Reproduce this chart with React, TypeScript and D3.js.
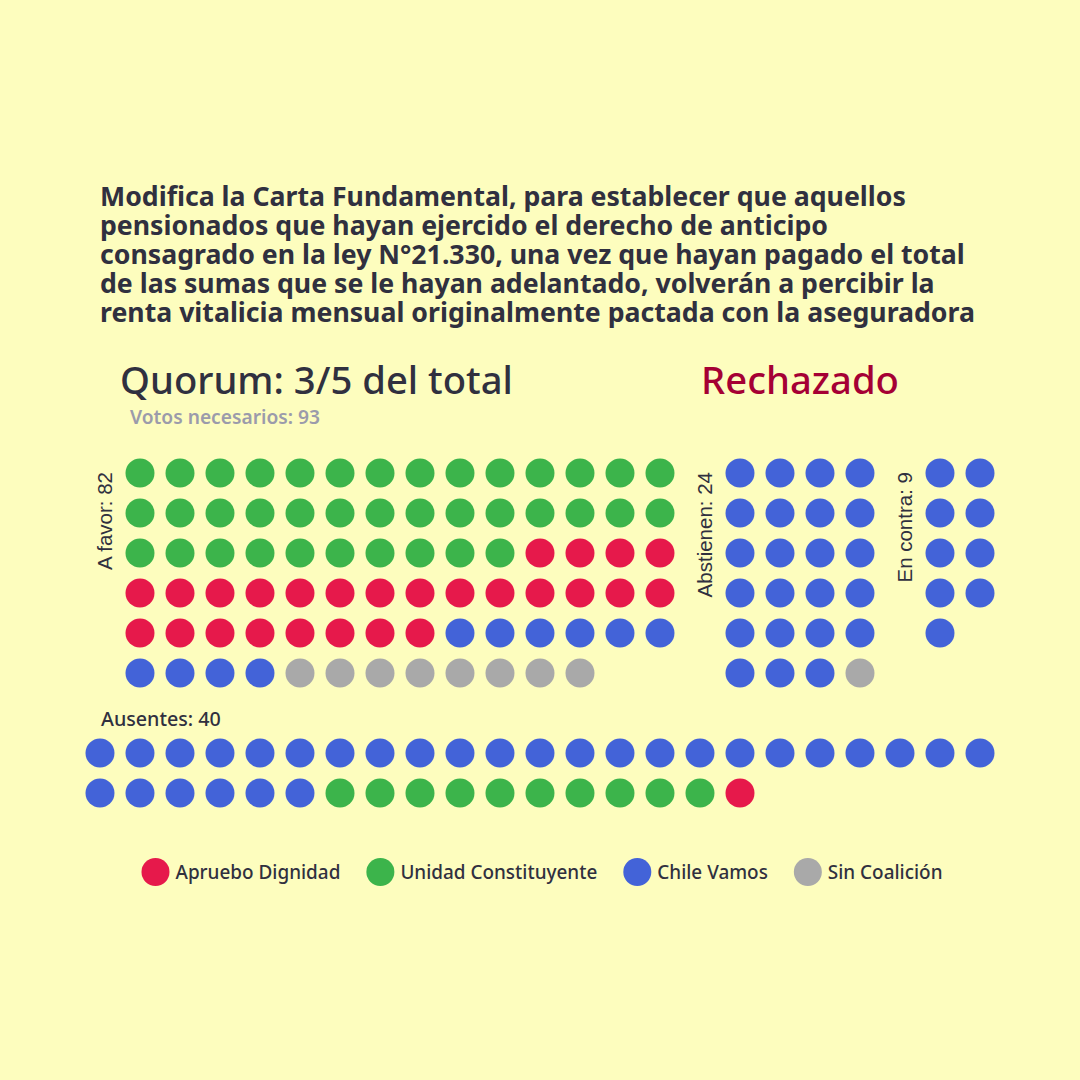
import React, { useRef, useEffect } from 'react';
import * as d3 from 'd3';

// Chart text
const titleLines = [
  "Modifica la Carta Fundamental, para establecer que aquellos",
  "pensionados que hayan ejercido el derecho de anticipo",
  "consagrado en la ley N°21.330, una vez que hayan pagado el total",
  "de las sumas que se le hayan adelantado, volverán a percibir la",
  "renta vitalicia mensual originalmente pactada con la aseguradora",
];
const quorumLabel = "Quorum: 3/5 del total";
const resultLabel = "Rechazado";
const votesNeeded = 93;

// Vote groups and seats by coalition
const groupLabels = ["A favor", "Abstienen", "En contra", "Ausentes"];
const partyNames = ["Apruebo Dignidad", "Unidad Constituyente", "Chile Vamos", "Sin Coalición"];
const partyColors = ["#e6194b", "#3cb44b", "#4363d8", "#a9a9a9"];
const aprueboDignidad = [26, 0, 0, 1];
const unidadConstituyente = [38, 0, 0, 10];
const chileVamos = [10, 23, 9, 29];
const sinCoalicion = [8, 1, 0, 0];

const bg = "#fdfdbe";
const ink = "#30303f";
const headFont = "'Noto Sans', sans-serif";
const labelFont = "'Liberation Sans', Arial, sans-serif";

// block layout on the dot grid
const blockCols = [14, 4, 2, 23];
const blockStartCol = [1, 16, 21, 0];
const blockStartRow = [0, 0, 0, 7];

const App = () => {
  const svgRef = useRef(null);

  useEffect(() => {
    document.body.style.margin = '0';
    document.body.style.background = bg;

    const svg = d3.select(svgRef.current);
    svg.selectAll('*').remove();

    svg.append('rect').attr('width', 1080).attr('height', 1080).attr('fill', bg);

    // scales a selection of texts so the reference one spans the target width
    const fit = (sel, ref, target) => {
      const w = ref.node().getComputedTextLength();
      const fs = parseFloat(ref.attr('font-size'));
      sel.attr('font-size', fs * target / w);
    };

    // title, one text block with a tspan per line
    const title = svg.append('text')
      .attr('font-family', headFont)
      .attr('font-weight', 700)
      .attr('font-size', 25)
      .attr('fill', ink);
    const lines = title.selectAll('tspan')
      .data(titleLines)
      .enter()
      .append('tspan')
      .attr('x', 100)
      .attr('y', (d, i) => 206 + i * 29)
      .text(d => d);
    const lineTargets = [803, 724, 872, 848, 863];
    const measured = d3.sum(lines.nodes(), n => n.getComputedTextLength());
    title.attr('font-size', 25 * d3.sum(lineTargets) / measured);

    const quorum = svg.append('text')
      .attr('x', 120).attr('y', 394)
      .attr('font-family', headFont).attr('font-weight', 500)
      .attr('font-size', 38).attr('fill', ink)
      .text(quorumLabel);
    fit(quorum, quorum, 393);

    const result = svg.append('text')
      .attr('x', 701).attr('y', 394)
      .attr('font-family', headFont).attr('font-weight', 500)
      .attr('font-size', 38).attr('fill', '#a50034')
      .text(resultLabel);
    fit(result, result, 198);

    const needed = svg.append('text')
      .attr('x', 130).attr('y', 424)
      .attr('font-family', headFont).attr('font-weight', 600)
      .attr('font-size', 18).attr('fill', '#9b9bab')
      .text(`Votos necesarios: ${votesNeeded}`);
    fit(needed, needed, 190);

    // dot grid
    const x = d3.scaleLinear().domain([0, 22]).range([100, 980]);
    const y = d3.scaleLinear().domain([0, 8]).range([473, 793]);
    const r = 14.5;

    const series = [aprueboDignidad, unidadConstituyente, chileVamos, sinCoalicion];
    const seats = [];
    groupLabels.forEach((g, gi) => {
      const parts = series
        .map((s, pi) => ({ party: pi, n: s[gi] }))
        .filter(p => p.n > 0)
        .sort((a, b) => b.n - a.n);
      let k = 0;
      parts.forEach(p => {
        for (let j = 0; j < p.n; j++) {
          seats.push({
            party: p.party,
            col: blockStartCol[gi] + (k % blockCols[gi]),
            row: blockStartRow[gi] + Math.floor(k / blockCols[gi]),
          });
          k++;
        }
      });
    });

    svg.append('g')
      .selectAll('circle')
      .data(seats)
      .enter()
      .append('circle')
      .attr('cx', d => x(d.col))
      .attr('cy', d => y(d.row))
      .attr('r', r)
      .attr('fill', d => partyColors[d.party]);

    const totals = groupLabels.map((g, gi) => d3.sum(series, s => s[gi]));

    // rotated group labels
    [0, 1, 2].forEach(gi => {
      svg.append('text')
        .attr('transform', `translate(${x(blockStartCol[gi]) - 28},${y(0) - 1}) rotate(-90)`)
        .attr('text-anchor', 'end')
        .attr('font-family', labelFont)
        .attr('font-size', 20.5)
        .attr('fill', ink)
        .text(`${groupLabels[gi]}: ${totals[gi]}`);
    });

    const aus = svg.append('text')
      .attr('x', 101).attr('y', y(blockStartRow[3]) - 27)
      .attr('font-family', headFont).attr('font-weight', 500)
      .attr('font-size', 18).attr('fill', ink)
      .text(`${groupLabels[3]}: ${totals[3]}`);
    fit(aus, aus, 120);

    // legend
    const legend = svg.append('g');
    const items = legend.selectAll('g')
      .data(partyNames)
      .enter()
      .append('g');
    items.append('circle')
      .attr('r', 14)
      .attr('cy', 0)
      .attr('fill', (d, i) => partyColors[i]);
    const ltexts = items.append('text')
      .attr('x', 20)
      .attr('y', 7)
      .attr('font-family', headFont).attr('font-weight', 500)
      .attr('font-size', 18).attr('fill', ink)
      .text(d => d);
    fit(ltexts, d3.select(ltexts.nodes()[0]), 165);

    const widths = ltexts.nodes().map(n => n.getComputedTextLength());
    const offsets = [];
    let acc = 0;
    widths.forEach(w => {
      offsets.push(acc);
      acc += 20 + w + 40;
    });
    const total = acc - 40 + 14;
    const startX = 542 - total / 2 + 14;
    items.attr('transform', (d, i) => `translate(${startX + offsets[i]},872)`);
  }, []);

  return <svg ref={svgRef} width={1080} height={1080} style={{ display: 'block' }}></svg>;
};

export default App;
